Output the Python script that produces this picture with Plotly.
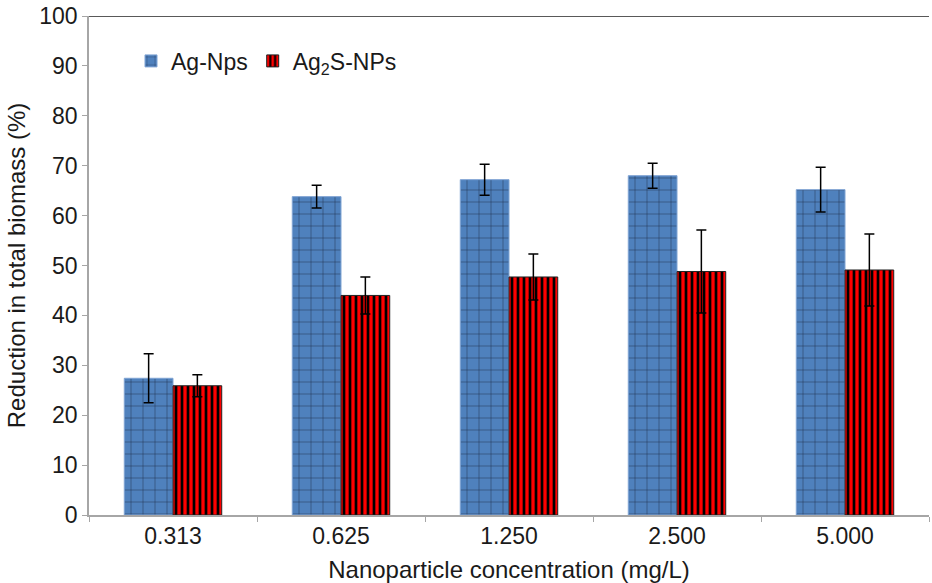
import plotly.graph_objects as go

categories = ["0.313", "0.625", "1.250", "2.500", "5.000"]
ag_nps = [27.4, 63.8, 67.2, 68.0, 65.2]
ag_nps_err = [4.9, 2.3, 3.1, 2.5, 4.5]
ag2s_nps = [25.9, 44.0, 47.7, 48.8, 49.1]
ag2s_nps_err = [2.2, 3.7, 4.6, 8.3, 7.2]
y_ticks = [0, 10, 20, 30, 40, 50, 60, 70, 80, 90, 100]

font_family = "Liberation Sans, Arial, sans-serif"

fig = go.Figure()
fig.add_trace(go.Bar(
    x=categories, y=ag_nps, name="Ag-Nps",
    marker=dict(color="#4F81BD",
                line=dict(color="#7FA3D3", width=1),
                pattern=dict(shape="+", fgcolor="#1F2F4F", bgcolor="#4F81BD",
                             size=12, solidity=0.08, fillmode="replace")),
    error_y=dict(type="data", array=ag_nps_err, visible=True,
                 color="black", thickness=1.5, width=5),
))
fig.add_trace(go.Bar(
    x=categories, y=ag2s_nps, name="Ag<sub>2</sub>S-NPs",
    marker=dict(color="#FF0000",
                line=dict(color="#222222", width=1),
                pattern=dict(shape="|", fgcolor="#000000", bgcolor="#FF0000",
                             size=6, solidity=0.45, fillmode="replace")),
    error_y=dict(type="data", array=ag2s_nps_err, visible=True,
                 color="black", thickness=1.5, width=5),
))

fig.add_shape(type="line", xref="paper", yref="y", x0=0, x1=1, y0=100, y1=100,
              line=dict(color="#222222", width=1.5))

fig.update_layout(
    width=932, height=583,
    margin=dict(l=89, r=3, t=16, b=68, autoexpand=False),
    paper_bgcolor="white", plot_bgcolor="white",
    barmode="group", bargap=0.42, bargroupgap=0,
    font=dict(family=font_family, size=23, color="#1a1a1a"),
    legend=dict(orientation="h", x=0.05, y=0.953, xanchor="left", yanchor="top",
                font=dict(size=23, family=font_family), bgcolor="rgba(0,0,0,0)",
                itemwidth=30, tracegroupgap=0),
    showlegend=True,
)
fig.update_xaxes(
    title=dict(text="Nanoparticle concentration (mg/L)", standoff=15,
               font=dict(size=24, family=font_family)),
    automargin=False,
    showline=True, linecolor="#A6A6A6", linewidth=1.5,
    ticks="outside", tickson="boundaries", ticklen=5, tickcolor="#A6A6A6",
    showgrid=False, tickfont=dict(size=23, family=font_family),
)
fig.update_yaxes(
    title=dict(text="Reduction in total biomass (%)", standoff=7,
               font=dict(size=24, family=font_family)),
    automargin=False, ticklabeloverflow="allow",
    range=[0, 100], tickvals=y_ticks,
    showline=True, linecolor="#A6A6A6", linewidth=1.5,
    ticks="outside", ticklen=5, tickcolor="#A6A6A6",
    showgrid=False, zeroline=False, tickfont=dict(size=23, family=font_family),
)

fig.write_html("out.html",
               config={"displayModeBar": False},
               post_script="document.body.style.margin='0';document.body.style.overflow='hidden';")
